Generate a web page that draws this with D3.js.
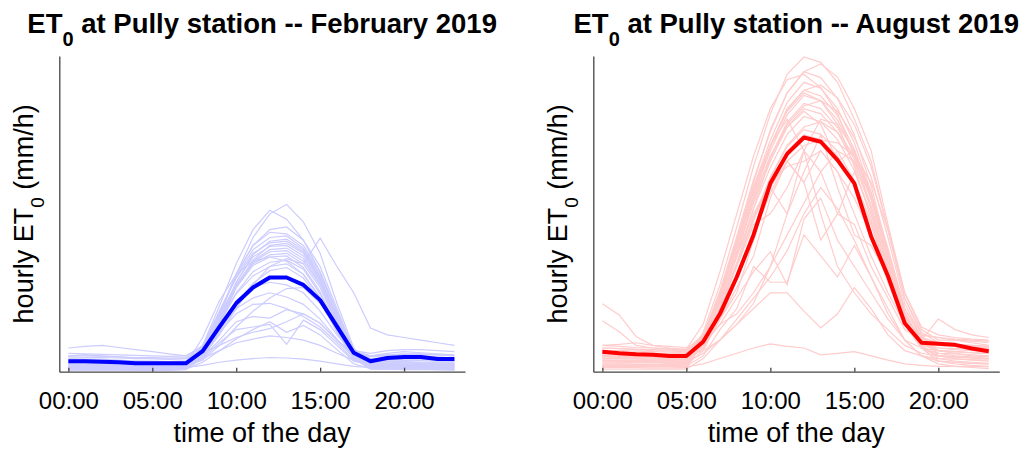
<!DOCTYPE html>
<html>
<head>
<meta charset="utf-8">
<script src="https://cdn.jsdelivr.net/npm/d3@7"></script>
<style>
body { margin: 0; background: #fff; }
text { font-family: "Liberation Sans", Arial, sans-serif; fill: #000; }
</style>
</head>
<body>
<script>
var width = 1027,
    height = 453;

// hour of the day for every sample
var hours = [0,1,2,3,4,5,6,7,8,9,10,11,12,13,14,15,16,17,18,19,20,21,22,23];
var tickHours = [0, 5, 10, 15, 20];
var tickLabels = ["00:00", "05:00", "10:00", "15:00", "20:00"];

// hourly ET0 (mm/h), monthly mean
var febMean = [0.020,0.020,0.019,0.018,0.016,0.016,0.016,0.016,0.039,0.085,0.130,0.160,0.179,0.179,0.165,0.136,0.086,0.036,0.020,0.026,0.028,0.028,0.024,0.024];
var augMean = [0.038,0.035,0.033,0.032,0.030,0.030,0.057,0.110,0.180,0.260,0.358,0.414,0.445,0.437,0.402,0.358,0.257,0.182,0.092,0.055,0.053,0.051,0.044,0.039];

// hourly ET0 (mm/h), one row per day
var febDays = [
  [0.012,0.012,0.011,0.011,0.010,0.010,0.010,0.012,0.045,0.110,0.185,0.255,0.300,0.318,0.285,0.225,0.130,0.045,0.015,0.014,0.013,0.013,0.012,0.012],
  [0.008,0.008,0.008,0.007,0.007,0.007,0.007,0.009,0.050,0.125,0.205,0.270,0.307,0.290,0.250,0.190,0.110,0.035,0.010,0.009,0.009,0.008,0.008,0.008],
  [0.020,0.020,0.019,0.018,0.018,0.017,0.017,0.018,0.030,0.070,0.120,0.165,0.200,0.215,0.205,0.254,0.200,0.150,0.083,0.070,0.065,0.060,0.055,0.050],
  [0.006,0.006,0.005,0.005,0.005,0.005,0.005,0.007,0.032,0.105,0.185,0.240,0.270,0.275,0.250,0.200,0.120,0.040,0.010,0.008,0.007,0.007,0.006,0.006],
  [0.015,0.014,0.014,0.013,0.013,0.012,0.012,0.014,0.040,0.110,0.185,0.240,0.265,0.262,0.240,0.190,0.115,0.040,0.018,0.016,0.015,0.015,0.014,0.014],
  [0.025,0.024,0.024,0.022,0.020,0.020,0.019,0.020,0.045,0.115,0.180,0.232,0.255,0.258,0.235,0.185,0.110,0.038,0.025,0.026,0.027,0.027,0.026,0.025],
  [0.010,0.010,0.009,0.009,0.009,0.008,0.008,0.010,0.030,0.095,0.170,0.222,0.248,0.252,0.232,0.180,0.105,0.032,0.012,0.011,0.011,0.010,0.010,0.010],
  [0.030,0.032,0.030,0.028,0.026,0.025,0.024,0.025,0.048,0.115,0.178,0.225,0.245,0.248,0.228,0.178,0.102,0.040,0.030,0.035,0.038,0.036,0.034,0.032],
  [0.004,0.004,0.004,0.004,0.003,0.003,0.003,0.005,0.026,0.088,0.160,0.212,0.240,0.244,0.225,0.175,0.100,0.030,0.006,0.005,0.005,0.005,0.004,0.004],
  [0.018,0.018,0.017,0.016,0.016,0.015,0.015,0.017,0.038,0.102,0.170,0.218,0.238,0.240,0.220,0.172,0.098,0.035,0.020,0.022,0.024,0.024,0.022,0.020],
  [0.012,0.011,0.011,0.010,0.010,0.010,0.010,0.011,0.035,0.098,0.165,0.210,0.232,0.235,0.215,0.168,0.095,0.033,0.015,0.016,0.017,0.016,0.015,0.015],
  [0.045,0.048,0.050,0.046,0.042,0.038,0.034,0.030,0.050,0.108,0.165,0.208,0.228,0.230,0.210,0.165,0.092,0.035,0.028,0.030,0.032,0.030,0.028,0.026],
  [0.008,0.008,0.008,0.007,0.007,0.007,0.007,0.009,0.030,0.092,0.160,0.205,0.222,0.225,0.205,0.160,0.090,0.030,0.010,0.010,0.010,0.009,0.009,0.008],
  [0.020,0.020,0.019,0.019,0.018,0.018,0.018,0.019,0.040,0.098,0.160,0.202,0.218,0.220,0.198,0.152,0.085,0.032,0.020,0.020,0.021,0.021,0.020,0.020],
  [0.014,0.014,0.013,0.013,0.013,0.012,0.012,0.014,0.065,0.135,0.185,0.210,0.218,0.210,0.185,0.140,0.075,0.028,0.015,0.015,0.014,0.014,0.014,0.014],
  [0.035,0.034,0.033,0.032,0.031,0.030,0.029,0.030,0.045,0.092,0.150,0.190,0.208,0.212,0.195,0.148,0.085,0.040,0.035,0.040,0.042,0.042,0.040,0.038],
  [0.006,0.006,0.006,0.005,0.005,0.005,0.005,0.006,0.025,0.075,0.128,0.168,0.192,0.198,0.178,0.135,0.075,0.025,0.008,0.008,0.007,0.007,0.007,0.006],
  [0.022,0.022,0.021,0.020,0.020,0.019,0.019,0.020,0.035,0.080,0.120,0.140,0.150,0.142,0.128,0.100,0.062,0.030,0.024,0.025,0.026,0.026,0.025,0.024],
  [0.010,0.010,0.010,0.009,0.009,0.009,0.009,0.010,0.030,0.075,0.110,0.128,0.130,0.120,0.105,0.085,0.055,0.022,0.012,0.012,0.012,0.011,0.011,0.010],
  [0.016,0.016,0.015,0.015,0.015,0.014,0.014,0.015,0.028,0.060,0.095,0.105,0.102,0.118,0.110,0.092,0.060,0.026,0.018,0.018,0.018,0.017,0.017,0.016],
  [0.012,0.012,0.012,0.011,0.011,0.011,0.010,0.011,0.025,0.055,0.080,0.085,0.090,0.052,0.098,0.080,0.050,0.020,0.013,0.013,0.012,0.012,0.012,0.012],
  [0.028,0.027,0.027,0.026,0.025,0.025,0.024,0.025,0.035,0.050,0.065,0.075,0.082,0.095,0.110,0.092,0.060,0.035,0.030,0.032,0.034,0.034,0.032,0.030],
  [0.005,0.005,0.005,0.005,0.005,0.004,0.004,0.005,0.018,0.040,0.062,0.080,0.095,0.075,0.088,0.070,0.042,0.015,0.006,0.006,0.006,0.005,0.005,0.005],
  [0.018,0.018,0.017,0.017,0.017,0.016,0.016,0.017,0.025,0.040,0.055,0.062,0.068,0.065,0.060,0.050,0.035,0.022,0.018,0.019,0.019,0.018,0.018,0.018],
  [0.008,0.008,0.008,0.008,0.007,0.007,0.007,0.008,0.012,0.018,0.022,0.025,0.027,0.026,0.024,0.020,0.015,0.010,0.008,0.008,0.008,0.008,0.008,0.008],
  [0.030,0.030,0.029,0.028,0.027,0.027,0.026,0.027,0.040,0.085,0.135,0.160,0.170,0.165,0.150,0.115,0.070,0.035,0.030,0.032,0.033,0.033,0.032,0.031],
  [0.012,0.012,0.011,0.011,0.011,0.011,0.010,0.011,0.022,0.050,0.085,0.115,0.140,0.158,0.160,0.130,0.080,0.030,0.014,0.014,0.013,0.013,0.013,0.012],
  [0.003,0.003,0.003,0.003,0.003,0.003,0.003,0.004,0.030,0.092,0.148,0.182,0.200,0.205,0.185,0.142,0.080,0.025,0.005,0.005,0.004,0.004,0.004,0.003]
];

var augDays = [
  [0.030,0.028,0.027,0.026,0.025,0.025,0.075,0.165,0.275,0.390,0.490,0.565,0.598,0.588,0.550,0.480,0.400,0.270,0.140,0.075,0.055,0.050,0.045,0.040],
  [0.040,0.038,0.036,0.035,0.034,0.033,0.060,0.140,0.250,0.360,0.460,0.530,0.570,0.585,0.560,0.500,0.420,0.280,0.150,0.080,0.060,0.060,0.055,0.050],
  [0.020,0.019,0.018,0.018,0.017,0.017,0.068,0.154,0.257,0.365,0.456,0.530,0.570,0.559,0.519,0.450,0.353,0.228,0.114,0.057,0.035,0.030,0.028,0.025],
  [0.050,0.048,0.046,0.045,0.044,0.043,0.090,0.190,0.300,0.410,0.500,0.555,0.565,0.540,0.490,0.410,0.310,0.190,0.090,0.050,0.045,0.044,0.043,0.042],
  [0.025,0.025,0.024,0.023,0.022,0.022,0.066,0.149,0.248,0.352,0.440,0.512,0.550,0.539,0.500,0.435,0.341,0.220,0.110,0.055,0.040,0.038,0.036,0.035],
  [0.015,0.015,0.014,0.014,0.013,0.013,0.050,0.120,0.220,0.330,0.430,0.500,0.535,0.545,0.520,0.470,0.390,0.270,0.140,0.070,0.030,0.025,0.022,0.020],
  [0.035,0.034,0.033,0.032,0.031,0.030,0.064,0.144,0.241,0.342,0.428,0.498,0.535,0.524,0.487,0.423,0.332,0.214,0.107,0.054,0.050,0.048,0.046,0.045],
  [0.010,0.010,0.009,0.009,0.009,0.008,0.060,0.145,0.245,0.345,0.430,0.495,0.530,0.515,0.470,0.390,0.290,0.180,0.090,0.045,0.020,0.018,0.016,0.015],
  [0.045,0.044,0.042,0.040,0.039,0.038,0.063,0.142,0.236,0.336,0.420,0.488,0.525,0.515,0.478,0.415,0.326,0.210,0.105,0.060,0.055,0.052,0.050,0.048],
  [0.022,0.021,0.021,0.020,0.020,0.019,0.045,0.110,0.205,0.310,0.405,0.470,0.505,0.515,0.495,0.445,0.370,0.255,0.130,0.065,0.040,0.035,0.030,0.028],
  [0.030,0.029,0.028,0.027,0.027,0.026,0.061,0.138,0.230,0.326,0.408,0.474,0.510,0.500,0.464,0.403,0.316,0.204,0.102,0.051,0.040,0.038,0.036,0.035],
  [0.012,0.012,0.011,0.011,0.011,0.010,0.060,0.135,0.225,0.320,0.400,0.465,0.500,0.490,0.455,0.395,0.310,0.200,0.100,0.050,0.025,0.020,0.018,0.016],
  [0.028,0.027,0.026,0.026,0.025,0.025,0.070,0.150,0.240,0.330,0.410,0.465,0.495,0.470,0.400,0.420,0.330,0.210,0.105,0.055,0.045,0.042,0.040,0.038],
  [0.018,0.018,0.017,0.017,0.016,0.016,0.058,0.131,0.218,0.310,0.388,0.451,0.485,0.475,0.441,0.383,0.301,0.194,0.097,0.049,0.030,0.028,0.026,0.025],
  [0.038,0.037,0.036,0.035,0.034,0.034,0.055,0.120,0.200,0.290,0.370,0.430,0.465,0.475,0.455,0.410,0.340,0.235,0.120,0.065,0.055,0.050,0.048,0.045],
  [0.008,0.008,0.008,0.007,0.007,0.007,0.055,0.124,0.207,0.294,0.368,0.428,0.460,0.451,0.419,0.363,0.285,0.184,0.092,0.046,0.020,0.015,0.012,0.010],
  [0.026,0.025,0.025,0.024,0.024,0.023,0.054,0.122,0.203,0.288,0.360,0.419,0.450,0.441,0.410,0.356,0.279,0.180,0.090,0.045,0.035,0.034,0.032,0.030],
  [0.032,0.031,0.030,0.030,0.029,0.029,0.045,0.100,0.175,0.260,0.340,0.400,0.430,0.440,0.435,0.410,0.360,0.270,0.150,0.085,0.070,0.065,0.062,0.060],
  [0.129,0.108,0.067,0.050,0.045,0.042,0.070,0.130,0.200,0.280,0.300,0.350,0.420,0.380,0.300,0.280,0.200,0.140,0.080,0.060,0.055,0.050,0.048,0.045],
  [0.097,0.076,0.050,0.045,0.043,0.040,0.060,0.100,0.160,0.220,0.330,0.400,0.360,0.420,0.380,0.300,0.220,0.150,0.090,0.070,0.065,0.060,0.058,0.055],
  [0.010,0.010,0.010,0.010,0.010,0.009,0.015,0.025,0.035,0.045,0.053,0.048,0.045,0.032,0.035,0.038,0.030,0.022,0.015,0.012,0.010,0.010,0.010,0.009],
  [0.020,0.020,0.019,0.019,0.018,0.018,0.035,0.060,0.090,0.120,0.150,0.150,0.115,0.083,0.110,0.160,0.120,0.070,0.040,0.030,0.025,0.024,0.023,0.022],
  [0.030,0.029,0.028,0.028,0.027,0.027,0.050,0.090,0.140,0.190,0.228,0.165,0.290,0.330,0.250,0.200,0.150,0.100,0.060,0.045,0.040,0.038,0.036,0.035],
  [0.015,0.015,0.014,0.014,0.014,0.013,0.040,0.100,0.180,0.270,0.350,0.400,0.360,0.250,0.300,0.380,0.300,0.180,0.090,0.045,0.030,0.028,0.026,0.025],
  [0.040,0.040,0.039,0.038,0.037,0.036,0.055,0.090,0.110,0.150,0.200,0.260,0.320,0.380,0.420,0.400,0.330,0.230,0.120,0.065,0.055,0.052,0.050,0.048],
  [0.022,0.022,0.021,0.021,0.020,0.020,0.065,0.150,0.250,0.350,0.430,0.480,0.420,0.300,0.200,0.150,0.110,0.080,0.050,0.035,0.030,0.028,0.026,0.025],
  [0.035,0.034,0.033,0.032,0.031,0.030,0.040,0.060,0.090,0.130,0.200,0.300,0.420,0.480,0.470,0.420,0.340,0.220,0.110,0.060,0.050,0.048,0.046,0.045],
  [0.012,0.012,0.012,0.011,0.011,0.011,0.030,0.080,0.120,0.200,0.170,0.170,0.260,0.220,0.180,0.240,0.180,0.110,0.060,0.030,0.020,0.018,0.016,0.015],
  [0.050,0.052,0.055,0.050,0.048,0.046,0.060,0.100,0.150,0.250,0.350,0.300,0.380,0.450,0.350,0.260,0.240,0.180,0.100,0.070,0.065,0.062,0.060,0.058],
  [0.005,0.005,0.005,0.005,0.005,0.005,0.025,0.060,0.100,0.140,0.180,0.230,0.300,0.350,0.310,0.250,0.180,0.120,0.060,0.030,0.015,0.010,0.008,0.006],
  [0.045,0.044,0.043,0.042,0.041,0.040,0.070,0.140,0.220,0.300,0.360,0.390,0.400,0.420,0.380,0.330,0.260,0.170,0.090,0.060,0.100,0.080,0.070,0.065]
];

var svg = d3.select("body").append("svg")
    .attr("width", width)
    .attr("height", height);

var y = d3.scaleLinear()
    .domain([0, 0.6])
    .range([371.7, 56]);

function drawPanel(left, right, days, mean, light, dark, month) {
  var x = d3.scaleLinear()
      .domain([-0.54, 23.63])
      .range([left, right]);

  var line = d3.line()
      .x(function (d, i) { return x(hours[i]); })
      .y(function (d) { return y(d); });

  var g = svg.append("g");

  g.append("g")
    .selectAll("path")
    .data(days)
    .enter().append("path")
      .attr("d", line)
      .attr("fill", "none")
      .attr("stroke", light)
      .attr("stroke-width", 1.2);

  g.append("path")
    .datum(mean)
    .attr("d", line)
    .attr("fill", "none")
    .attr("stroke", dark)
    .attr("stroke-width", 4)
    .attr("stroke-linejoin", "round");

  var xAxis = g.append("g")
    .attr("transform", "translate(0," + y(0) + ")")
    .call(d3.axisBottom(x)
      .tickValues(tickHours)
      .tickFormat(function (d, i) { return tickLabels[i]; })
      .tickSizeInner(-4)
      .tickSizeOuter(0)
      .tickPadding(20));
  xAxis.selectAll("text")
    .attr("font-size", 24)
    .attr("font-family", null)
    .attr("fill", "#000");

  g.append("g")
    .attr("transform", "translate(" + left + ",0)")
    .call(d3.axisLeft(y).tickValues([]).tickSizeOuter(0));

  g.selectAll(".domain, .tick line")
    .attr("stroke", "#444")
    .attr("stroke-width", 1.3);

  var cx = (left + right) / 2;

  var title = g.append("text")
    .attr("x", cx)
    .attr("y", 33)
    .attr("text-anchor", "middle")
    .attr("font-size", 27.5)
    .attr("font-weight", "bold");
  title.append("tspan").text("ET");
  title.append("tspan").attr("dy", 13).attr("font-size", 20).text("0");
  title.append("tspan").attr("dy", -13).text(" at Pully station -- " + month + " 2019");

  g.append("text")
    .attr("x", cx)
    .attr("y", 442)
    .attr("text-anchor", "middle")
    .attr("font-size", 27)
    .text("time of the day");

  var ylab = g.append("text")
    .attr("transform", "translate(" + (left - 26) + "," + ((y(0) + y(0.6)) / 2) + ") rotate(-90)")
    .attr("text-anchor", "middle")
    .attr("font-size", 27);
  ylab.append("tspan").text("hourly ET");
  ylab.append("tspan").attr("dy", 11).attr("font-size", 19).text("0");
  ylab.append("tspan").attr("dy", -11).text(" (mm/h)");
}

drawPanel(59.3, 465, febDays, febMean, "#ccccff", "#0000ff", "February");
drawPanel(593.3, 999.3, augDays, augMean, "#ffcccc", "#ff0000", "August");
</script>
</body>
</html>
